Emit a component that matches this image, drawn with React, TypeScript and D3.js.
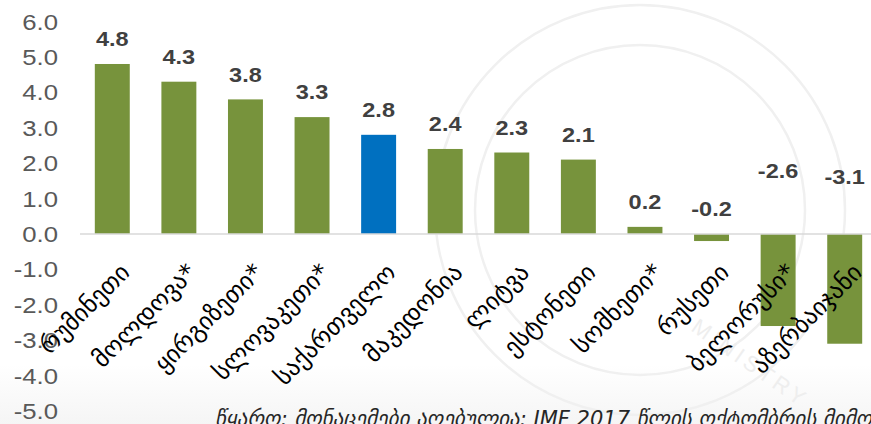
import React from "react";
import * as d3 from "d3";

const categories = [
  "რუმინეთი",
  "მოლდოვა*",
  "ყირგიზეთი*",
  "სლოვაკეთი*",
  "საქართველო",
  "მაკედონია",
  "ლიტვა",
  "ესტონეთი",
  "სომხეთი*",
  "რუსეთი",
  "ბელორუსი*",
  "აზერბაიჯანი",
];
const values = [4.8, 4.3, 3.8, 3.3, 2.8, 2.4, 2.3, 2.1, 0.2, -0.2, -2.6, -3.1];
const highlight = "საქართველო";
const yTicks = [6, 5, 4, 3, 2, 1, 0, -1, -2, -3, -4, -5];
const sourceText = "წყარო: მონაცემები აღებულია: IMF 2017 წლის ოქტომბრის მიმოხილვიდან";

const W = 871;
const H = 424;
const GREEN = "#77933C";
const BLUE = "#0070C0";

export default function App() {
  const x = d3.scaleBand<string>().domain(categories).range([79, 878]).paddingInner(0.475).paddingOuter(0.2375);
  const y = d3.scaleLinear().domain([-5, 6]).range([411, 21.5]);
  const y0 = y(0);
  const fmt = (v: number) => d3.format(".1f")(v).replace("−", "-");

  const labelY = (v: number, i: number) => {
    if (v >= 0) return y(v) - 25;
    if (v > -1) return y0 - 25;
    return y0 - 60 - (i === 10 ? 3 : -3);
  };

  return (
    <svg width={W} height={H} style={{ position: "absolute", left: 0, top: 0, background: "#fff" }}>
      <defs>
        <linearGradient id="bg" x1="0" y1="0" x2="0" y2="1">
          <stop offset="0.86" stopColor="#ffffff" />
          <stop offset="1" stopColor="#f5f5f5" />
        </linearGradient>
      </defs>
      <rect x={0} y={0} width={W} height={H} fill="url(#bg)" />
      {/* faint watermark seal */}
      <g fill="none" stroke="#f0f0f0" strokeWidth={2.5}>
        <circle cx={640} cy={210} r={205} />
        <circle cx={640} cy={210} r={165} />
      </g>
      <text
        x={690}
        y={330}
        fontFamily="Liberation Sans, Arial, sans-serif"
        fontSize={22}
        fill="#eeeeee"
        transform="rotate(35 690 330)"
        letterSpacing={4}
      >
        MINISTRY
      </text>

      {/* y axis labels */}
      {yTicks.map((t) => (
        <text
          key={t}
          x={58}
          y={y(t)}
          dy="0.35em"
          textAnchor="end"
          fontFamily="Liberation Sans, Arial, sans-serif"
          fontSize={23}
          fill="#595959"
          transform={`translate(58,0) scale(1.12,1) translate(-58,0)`}
        >
          {fmt(t)}
        </text>
      ))}

      {/* bars */}
      {categories.map((c, i) => {
        const v = values[i];
        const top = Math.min(y(v), y0);
        const h = Math.abs(y(v) - y0);
        return (
          <rect
            key={c}
            x={x(c)}
            y={top}
            width={x.bandwidth()}
            height={h}
            fill={c === highlight ? BLUE : GREEN}
          />
        );
      })}

      {/* zero line */}
      <line x1={80} x2={W} y1={y0} y2={y0} stroke="#d9d9d9" strokeWidth={1.5} />

      {/* value labels */}
      {categories.map((c, i) => {
        const v = values[i];
        const cx = (x(c) as number) + x.bandwidth() / 2;
        const ly = labelY(v, i);
        return (
          <text
            key={"v" + c}
            x={cx}
            y={ly}
            dy="0.35em"
            textAnchor="middle"
            fontFamily="Liberation Sans, Arial, sans-serif"
            fontWeight="bold"
            fontSize={21}
            fill="#404040"
            transform={`translate(${cx},0) scale(1.12,1) translate(${-cx},0)`}
          >
            {fmt(v)}
          </text>
        );
      })}

      {/* category labels */}
      {categories.map((c) => {
        const cx = (x(c) as number) + x.bandwidth() / 2 + 5;
        const ay = 260;
        return (
          <text
            key={"c" + c}
            x={cx}
            y={ay}
            dy="0.8em"
            textAnchor="end"
            fontFamily="DejaVu Sans, sans-serif"
            fontSize={24.5}
            fill="#000"
            transform={`rotate(-45 ${cx} ${ay})`}
          >
            {c}
          </text>
        );
      })}

      {/* source note */}
      <text
        x={215}
        y={426}
        fontFamily="DejaVu Sans, sans-serif"
        fontStyle="italic"
        fontSize={21}
        fill="#262626"
      >
        {sourceText}
      </text>
    </svg>
  );
}
